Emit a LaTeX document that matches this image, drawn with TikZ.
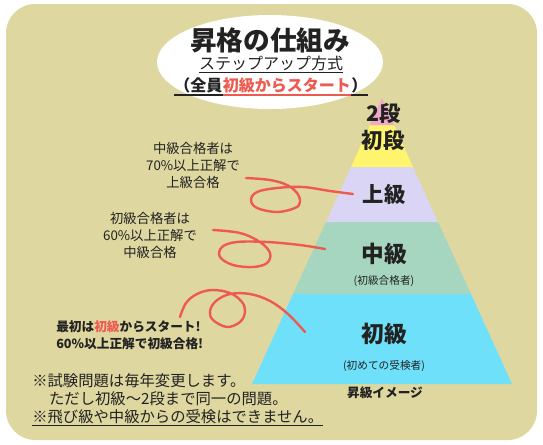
\documentclass[tikz,border=0pt]{standalone}
\usepackage{fontspec}
\setmainfont{Noto Sans CJK JP}
\usepackage{tikz}
\usetikzlibrary{positioning}
\definecolor{arena}{HTML}{DED7A0}
\definecolor{rosa}{HTML}{F2A9C9}
\definecolor{amarillo}{HTML}{FFF46E}
\definecolor{lila}{HTML}{DAD5F4}
\definecolor{menta}{HTML}{A6D6BF}
\definecolor{celeste}{HTML}{6FE0FA}
\definecolor{rojo}{HTML}{EE5A50}
\definecolor{tinta}{HTML}{222222}
\tikzset{
  titletext/.style={font=\fontsize{20}{22}\selectfont\bfseries,text=tinta,inner sep=0pt},
  subtitle/.style={font=\fontsize{12}{14}\selectfont\bfseries,text=tinta,inner sep=0pt},
  uline/.style={draw=tinta,line width=1.1pt},
  tiername/.style={font=\fontsize{16}{18}\selectfont\bfseries,text=tinta,inner sep=0pt},
  bigtier/.style={tiername,font=\fontsize{17}{19}\selectfont\bfseries},
  tiersub/.style={font=\fontsize{8}{9}\selectfont,text=tinta,inner sep=0pt},
  caption/.style={font=\fontsize{9.5}{11}\selectfont\bfseries,text=tinta,inner sep=0pt},
  sidenote/.style={align=center,font=\fontsize{10}{12.75}\selectfont,text=tinta,inner sep=0pt},
  startnote/.style={align=left,font=\fontsize{9.5}{12.75}\selectfont\bfseries,text=tinta,inner sep=0pt},
  notes/.style={align=left,font=\fontsize{11.5}{13.5}\selectfont,text=tinta,inner sep=0pt},
  scribble/.style={draw=rojo,line width=1.8pt,line cap=round,line join=round}
}
\begin{document}
\begin{tikzpicture}[x=0.75pt,y=-0.75pt]
\useasboundingbox (0,0) rectangle (543,444);
\fill[arena,rounded corners=22pt] (6,4) rectangle (537,440);
\fill[white] (270,62) ellipse (84.75pt and 35.25pt);

% piramide
\fill[celeste] (252,384) -- (293,294) -- (471,294) -- (512,384) -- cycle;
\fill[menta] (293,294) -- (326,222) -- (438,222) -- (471,294) -- cycle;
\fill[lila] (326,222) -- (351,167) -- (413,167) -- (438,222) -- cycle;
\fill[amarillo] (351,167) -- (370,125) -- (394,125) -- (413,167) -- cycle;
\fill[rosa] (370,125) -- (382,98) -- (394,125) -- cycle;

% titulo
\node[titletext] (titulo) at (270,40) {昇格の仕組み};
\node[subtitle,font=\fontsize{12}{14}\selectfont] (paso) at (271,63) {ステップアップ方式};
\draw[uline,line width=0.9pt] ([yshift=-2.5pt]paso.base west) -- ([yshift=-2.5pt]paso.base east);
\node[subtitle,anchor=west] (abre) at (174,85) {（全員};
\node[subtitle,text=rojo,anchor=base west] (inicioroj) at (abre.base east) {初級からスタート};
\node[subtitle,anchor=base west] (cierra) at (inicioroj.base east) {）};
\draw[uline] ([yshift=-3pt]abre.base west) -- ([yshift=-3pt]cierra.base east);
\draw[uline,draw=rojo] ([yshift=-3pt]inicioroj.base west) -- ([yshift=-3pt]inicioroj.base east);

% niveles
\node[tiername] (nidan) at (384,113) {2段};
\node[tiername] (shodan) at (383,140) {初段};
\node[tiername] (jokyu) at (384,194) {上級};
\node[bigtier] (chukyu) at (384,254) {中級};
\node[tiersub] (chukyusub) at (384,281) {(初級合格者)};
\node[bigtier] (shokyu) at (384,334) {初級};
\node[tiersub] (shokyusub) at (384,366) {(初めての受検者)};
\node[caption] (imagen) at (385,393) {昇級イメージ};

% notas
\node[sidenote] (nota70) at (193,165) {中級合格者は\\70\%以上正解で\\上級合格};
\node[sidenote] (nota60) at (150,235) {初級合格者は\\60\%以上正解で\\中級合格};
\node[startnote,anchor=west] (inicio) at (56,335) {最初は\textcolor{rojo}{初級}からスタート!\\60\%以上正解で初級合格!};
\node[notes,anchor=west] (avisos) at (32,400) {※試験問題は毎年変更します。\\\hspace{1.1em}ただし初級～2段まで同一の問題。\\\underline{※飛び級や中級からの受検はできません。}};

% rizos
\coordinate (rizo1a) at (246,178);
\coordinate (rizo1b) at (353,194);
\coordinate (rizo2a) at (213,230);
\coordinate (rizo2b) at (325,249);
\coordinate (rizo3a) at (180,317);
\coordinate (rizo3b) at (305,332);
\draw[scribble] plot[smooth,tension=0.6] coordinates {(rizo1a) (270,180) (287,185) (297,193) (300,202) (295,208) (277,212) (257,208) (251,200) (257,192) (277,188) (303,187) (330,191) (rizo1b)};
\draw[scribble] plot[smooth,tension=0.6] coordinates {(rizo2a) (240,233) (260,242) (270,253) (267,263) (253,267) (233,265) (220,257) (222,247) (237,242) (267,242) (300,245) (rizo2b)};
\draw[scribble] plot[smooth,tension=0.6] coordinates {(rizo3a) (186,303) (197,294) (212,290) (230,293) (242,302) (245,312) (240,322) (227,327) (213,320) (210,311) (216,301) (230,294) (250,294) (270,301) (288,314) (rizo3b)};
\end{tikzpicture}
\end{document}
